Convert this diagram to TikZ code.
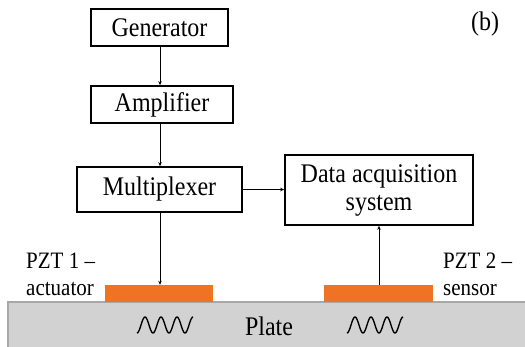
\documentclass[tikz,border=0pt]{standalone}
\usepackage{fontspec}
\setmainfont{Liberation Serif}
\usetikzlibrary{arrows.meta}
\definecolor{pzt}{HTML}{EE7324}
\definecolor{platefill}{HTML}{D2D2D2}
\definecolor{plateedge}{HTML}{A8A8A8}
\newcommand{\vst}[1]{\scalebox{1}[1.12]{#1}}
\tikzset{
  blockbox/.style={draw=black, line width=1.6pt, fill=white, inner sep=0pt,
    font=\fontsize{24}{27}\selectfont, align=center},
  conn/.style={line width=1pt, -{Stealth[length=4pt,width=3.5pt]}},
  lbl/.style={inner sep=0pt, font=\fontsize{21}{24}\selectfont},
  wave/.style={line width=1.4pt, line join=round}
}
\begin{document}
\begin{tikzpicture}[x=1pt, y=-1pt]
\useasboundingbox (0,0) rectangle (525,346);
% plate
\fill[platefill] (8,302) rectangle (526,347);
\draw[plateedge, line width=1.2pt] (8,347) -- (8,302) -- (526,302);
% PZTs
\node[fill=pzt, inner sep=0pt, minimum width=108pt, minimum height=17pt] (act) at (159,293.5) {};
\node[fill=pzt, inner sep=0pt, minimum width=109pt, minimum height=17pt] (sen) at (378.5,293.5) {};
% blocks
\node[blockbox, minimum width=137pt, minimum height=37pt] (gen) at (159.5,27.5) {\vst{Generator}};
\node[blockbox, minimum width=142pt, minimum height=37pt] (amp) at (162,104.5) {\vst{Amplifier}};
\node[blockbox, minimum width=165pt, minimum height=45pt] (mux) at (159.5,189.5) {\vst{Multiplexer}};
\node[blockbox, minimum width=188pt, minimum height=70pt] (daq) at (379,190) {\vst{Data acquisition}\\[1pt]\vst{system}};
% connectors
\coordinate (c1) at (160,46);
\draw[conn] (gen.south -| c1) -- (amp.north -| c1);
\draw[conn] (amp.south -| c1) -- (mux.north -| c1);
\draw[conn] (mux.east) -- (daq.west |- mux.east);
\draw[conn] (mux.south -| c1) -- (act.north -| c1);
\coordinate (c2) at (379,285);
\draw[conn] (sen.north -| c2) -- (daq.south -| c2);
% labels
\node[lbl, anchor=base west] (p1a) at (26,268) {\vst{PZT 1 –}};
\node[lbl, anchor=base west] (p1b) at (26,295) {\vst{actuator}};
\node[lbl, anchor=base west] (p2a) at (443,268) {\vst{PZT 2 –}};
\node[lbl, anchor=base west] (p2b) at (443,295) {\vst{sensor}};
\node[inner sep=0pt, anchor=base, font=\fontsize{24}{27}\selectfont] (plate) at (269,335) {\vst{Plate}};
\node[inner sep=0pt, anchor=base, font=\fontsize{24}{27}\selectfont] (b) at (485,30) {\vst{(b)}};
% waves
\draw[wave] plot[domain=0:3.5, samples=80, smooth] ({137+16*\x},{325+8*cos(360*\x)});
\draw[wave] plot[domain=0:3.5, samples=80, smooth] ({347+16*\x},{325+8*cos(360*\x)});
\end{tikzpicture}
\end{document}
